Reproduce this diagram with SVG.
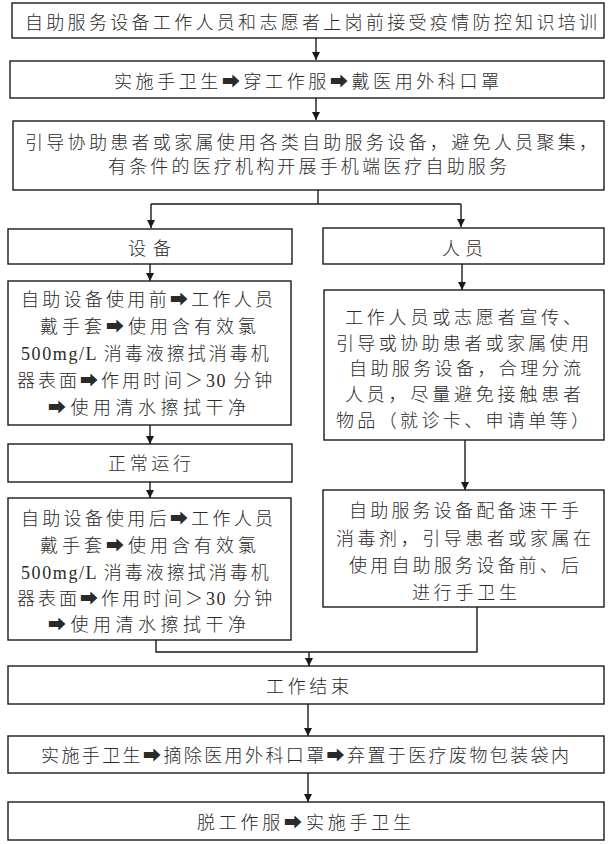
<svg xmlns="http://www.w3.org/2000/svg" width="613" height="844" viewBox="0 0 613 844">
<style>
.b{fill:#fff;stroke:#1a1a1a;stroke-width:1.4}
.c{fill:none;stroke:#1a1a1a;stroke-width:1.4}
.t{font-family:"Noto Sans CJK SC","DejaVu Sans",sans-serif;font-size:18px;font-weight:300;fill:#2a2a2a}
.l{font-family:"Liberation Serif","Noto Sans CJK SC",serif;letter-spacing:1.6px}
.s{letter-spacing:3px}
</style>
<defs>
<marker id="ah" markerUnits="userSpaceOnUse" markerWidth="9" markerHeight="9" refX="8" refY="4" orient="auto">
<path d="M0,0 L8,4 L0,8 z" fill="#1a1a1a"/>
</marker>
</defs>
<rect width="613" height="844" fill="#fff"/>
<g id="connectors">
<path class="c" d="M316,38 V60" marker-end="url(#ah)"/>
<path class="c" d="M316,98 V120" marker-end="url(#ah)"/>
<path class="c" d="M318,190 V204 M151,204 H461"/>
<path class="c" d="M151,204 V228" marker-end="url(#ah)"/>
<path class="c" d="M461,204 V227" marker-end="url(#ah)"/>
<path class="c" d="M150,264 V281" marker-end="url(#ah)"/>
<path class="c" d="M462,264 V290" marker-end="url(#ah)"/>
<path class="c" d="M150,425 V444" marker-end="url(#ah)"/>
<path class="c" d="M150,482 V498" marker-end="url(#ah)"/>
<path class="c" d="M465,440 V490" marker-end="url(#ah)"/>
<path class="c" d="M156,640 V652 H477 V607"/>
<path class="c" d="M309,652 V666" marker-end="url(#ah)"/>
<path class="c" d="M308,704 V736" marker-end="url(#ah)"/>
<path class="c" d="M308,773 V802" marker-end="url(#ah)"/>
</g>
<g id="n1">
<rect class="b" x="12" y="3" width="592" height="35"/>
<text class="t" x="25" y="28.5" textLength="572">自助服务设备工作人员和志愿者上岗前接受疫情防控知识培训</text>
</g>
<g id="n2">
<rect class="b" x="10" y="61" width="594" height="37"/>
<text class="t" x="114" y="88" textLength="385">实施手卫生➡穿工作服➡戴医用外科口罩</text>
</g>
<g id="n3">
<rect class="b" x="13" y="121" width="591" height="69"/>
<text class="t" x="25" y="148.5" textLength="572">引导协助患者或家属使用各类自助服务设备，避免人员聚集，</text>
<text class="t" x="108" y="172.5" textLength="399">有条件的医疗机构开展手机端医疗自助服务</text>
</g>
<g id="n4">
<rect class="b" x="8" y="229" width="284" height="35"/>
<text class="t" x="128" y="254.5" textLength="43">设备</text>
</g>
<g id="n5">
<rect class="b" x="323" y="228" width="281" height="36"/>
<text class="t" x="442" y="254.5" textLength="41">人员</text>
</g>
<g id="n6">
<rect class="b" x="8" y="281" width="283" height="144"/>
<text class="t" x="21" y="305.5" textLength="252">自助设备使用前➡工作人员</text>
<text class="t" x="40" y="332.5" textLength="216">戴手套➡使用含有效氯</text>
<text class="t" x="21" y="359.5"><tspan class="l">500mg/L </tspan><tspan class="s">消毒液擦拭消毒机</tspan></text>
<text class="t s" x="17" y="386.5">器表面➡作用时间＞<tspan class="l">30 </tspan>分钟</text>
<text class="t" x="48" y="413.5" textLength="198">➡使用清水擦拭干净</text>
</g>
<g id="n7">
<rect class="b" x="324" y="290" width="280" height="150"/>
<text class="t" x="345" y="323.5" textLength="236">工作人员或志愿者宣传、</text>
<text class="t" x="336" y="349.5" textLength="253">引导或协助患者或家属使用</text>
<text class="t" x="349" y="374.5" textLength="232">自助服务设备，合理分流</text>
<text class="t" x="345" y="400.5" textLength="236">人员，尽量避免接触患者</text>
<text class="t" x="336" y="426.5" textLength="253">物品（就诊卡、申请单等）</text>
</g>
<g id="n8">
<rect class="b" x="8" y="444" width="284" height="38"/>
<text class="t" x="108" y="469.5" textLength="83">正常运行</text>
</g>
<g id="n9">
<rect class="b" x="8" y="498" width="283" height="142"/>
<text class="t" x="21" y="524.5" textLength="252">自助设备使用后➡工作人员</text>
<text class="t" x="40" y="551.5" textLength="216">戴手套➡使用含有效氯</text>
<text class="t" x="21" y="578.5"><tspan class="l">500mg/L </tspan><tspan class="s">消毒液擦拭消毒机</tspan></text>
<text class="t s" x="17" y="604.5">器表面➡作用时间＞<tspan class="l">30 </tspan>分钟</text>
<text class="t" x="48" y="630.5" textLength="198">➡使用清水擦拭干净</text>
</g>
<g id="n10">
<rect class="b" x="323" y="490" width="281" height="117"/>
<text class="t" x="349" y="516.5" textLength="230">自助服务设备配备速干手</text>
<text class="t" x="336" y="544.5" textLength="255">消毒剂，引导患者或家属在</text>
<text class="t" x="349" y="571.5" textLength="230">使用自助服务设备前、后</text>
<text class="t" x="412" y="598.5" textLength="105">进行手卫生</text>
</g>
<g id="n11">
<rect class="b" x="8" y="666" width="596" height="38"/>
<text class="t" x="266" y="692.5" textLength="83">工作结束</text>
</g>
<g id="n12">
<rect class="b" x="8" y="736" width="596" height="37"/>
<text class="t" x="41" y="761.5" textLength="528">实施手卫生➡摘除医用外科口罩➡弃置于医疗废物包装袋内</text>
</g>
<g id="n13">
<rect class="b" x="8" y="802" width="596" height="38"/>
<text class="t" x="197" y="828.5" textLength="214">脱工作服➡实施手卫生</text>
</g>
</svg>
